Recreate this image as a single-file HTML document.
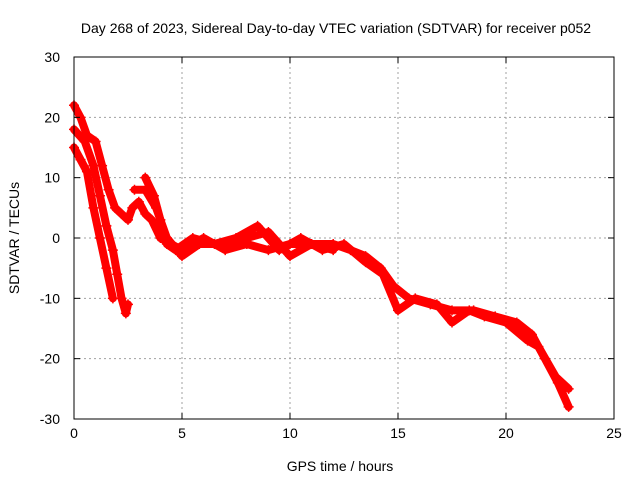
<!DOCTYPE html>
<html><head><meta charset="utf-8"><style>
body{margin:0;background:#fff}
text{font-family:"Liberation Sans",sans-serif;font-size:14px;fill:#000}
</style></head><body>
<svg id="chart" width="640" height="480" xmlns="http://www.w3.org/2000/svg">
<rect width="640" height="480" fill="#fff"/>
<g id="grid"></g><g id="series"></g><g id="axes"></g>
<text x="336" y="33" text-anchor="middle">Day 268 of 2023, Sidereal Day-to-day VTEC variation (SDTVAR) for receiver p052</text>
<text x="340" y="471" text-anchor="middle">GPS time / hours</text>
<text transform="translate(19,238) rotate(-90)" text-anchor="middle">SDTVAR / TECUs</text>
</svg>
<script>
const xTicks=[0,5,10,15,20,25];
const yTicks=[-30,-20,-10,0,10,20,30];
const t1x=[0,0.3,0.6,1.0,1.3,1.6,1.9,2.2,2.5,2.7,3.0,3.3,3.6,4.0,4.5,5,5.5,6,7,8,9,10,11,12,12.8,13.5,14.2,14.8,15.5,16.5,17.5,18.5,19.5,20.5,21.2,21.8,22.4,22.9];
const t1y=[22,20,17,16,12,8,5,4,3,5,6,4,3,0,-1,-2,-1,0,-2,-1,-2,-1,-1,-1,-2,-3,-5,-8,-10,-11,-12,-12,-13,-14,-16,-20,-24,-28];
const t2x=[0,0.5,0.9,1.2,1.5,1.8,2.0,2.2,2.4,2.5];
const t2y=[18,16,12,7,2,-2,-6,-10,-12.5,-11];
const t3x=[0,0.3,0.6,0.9,1.2,1.5,1.8];
const t3y=[15,13,11,5,0,-5,-10];
const t4x=[3.3,3.7,4.0,4.3,4.7,5.5,6.5,7.5,8.5,9.5,10.5,11.5,12.5,13.5,14.3,15,15.8,16.8,17.5,18.3,19,20,21,21.5,22.3,22.9];
const t4y=[10,7,3,-1,-2,0,-1,0,2,-2,0,-2,-1,-4,-6,-12,-10,-11,-14,-12,-13,-14,-17,-18,-23,-25];
const t5x=[2.8,3.3,3.8,4.3,5,5.8,7,8,9,10,11,12];
const t5y=[8,8,5,0,-3,-1,-1,0,1,-3,-1,-2];
const X0=74,X1=614,Y0=419,Y1=57;
const sx=v=>X0+(v-0)/25*(X1-X0);
const sy=v=>Y0-(v+30)/60*(Y0-Y1);
const NS="http://www.w3.org/2000/svg";
function mk(tag,parent,attrs){const e=document.createElementNS(NS,tag);for(const k in attrs)e.setAttribute(k,attrs[k]);parent.appendChild(e);return e;}
const grid=document.getElementById('grid'),axes=document.getElementById('axes'),ser=document.getElementById('series');
xTicks.forEach(t=>{
  if(t>0&&t<25){const g=mk('line',grid,{x1:sx(t),x2:sx(t),y1:Y1,y2:Y0,stroke:'#a0a0a0','stroke-dasharray':'2,3'});
  
  }
  mk('line',axes,{x1:sx(t),x2:sx(t),y1:Y0,y2:Y0-6,stroke:'#000'});
  mk('line',axes,{x1:sx(t),x2:sx(t),y1:Y1,y2:Y1+6,stroke:'#000'});
  const l=mk('text',axes,{x:sx(t),y:Y0+19,'text-anchor':'middle'});l.textContent=t;
  
  
});
yTicks.forEach(t=>{
  if(t>-30&&t<30){const g=mk('line',grid,{x1:X0,x2:X1,y1:sy(t),y2:sy(t),stroke:'#a0a0a0','stroke-dasharray':'2,3'});
  
  }
  mk('line',axes,{x1:X0,x2:X0+6,y1:sy(t),y2:sy(t),stroke:'#000'});
  mk('line',axes,{x1:X1,x2:X1-6,y1:sy(t),y2:sy(t),stroke:'#000'});
  const l=mk('text',axes,{x:X0-14,y:sy(t)+5,'text-anchor':'end'});l.textContent=t;
  
  
});
const fr=mk('rect',axes,{x:X0,y:Y1,width:X1-X0,height:Y0-Y1,fill:'none',stroke:'#000'});


[[t1x,t1y],[t2x,t2y],[t3x,t3y],[t4x,t4y],[t5x,t5y]].forEach(([xs,ys],i)=>{
  const pts=xs.map((x,j)=>sx(x)+','+sy(ys[j])).join(' ');
  const p=mk('polyline',ser,{points:pts,fill:'none',stroke:'#ff0000','stroke-width':8,'stroke-linejoin':'round','stroke-linecap':'round'});
  
  
  xs.forEach((x,j)=>{
    const m=mk('path',ser,{d:`M${sx(x)-5},${sy(ys[j])}h10M${sx(x)},${sy(ys[j])-5}v10`,stroke:'#ff0000','stroke-width':1.5});
    
    
  });
});
</script>
</body></html>
